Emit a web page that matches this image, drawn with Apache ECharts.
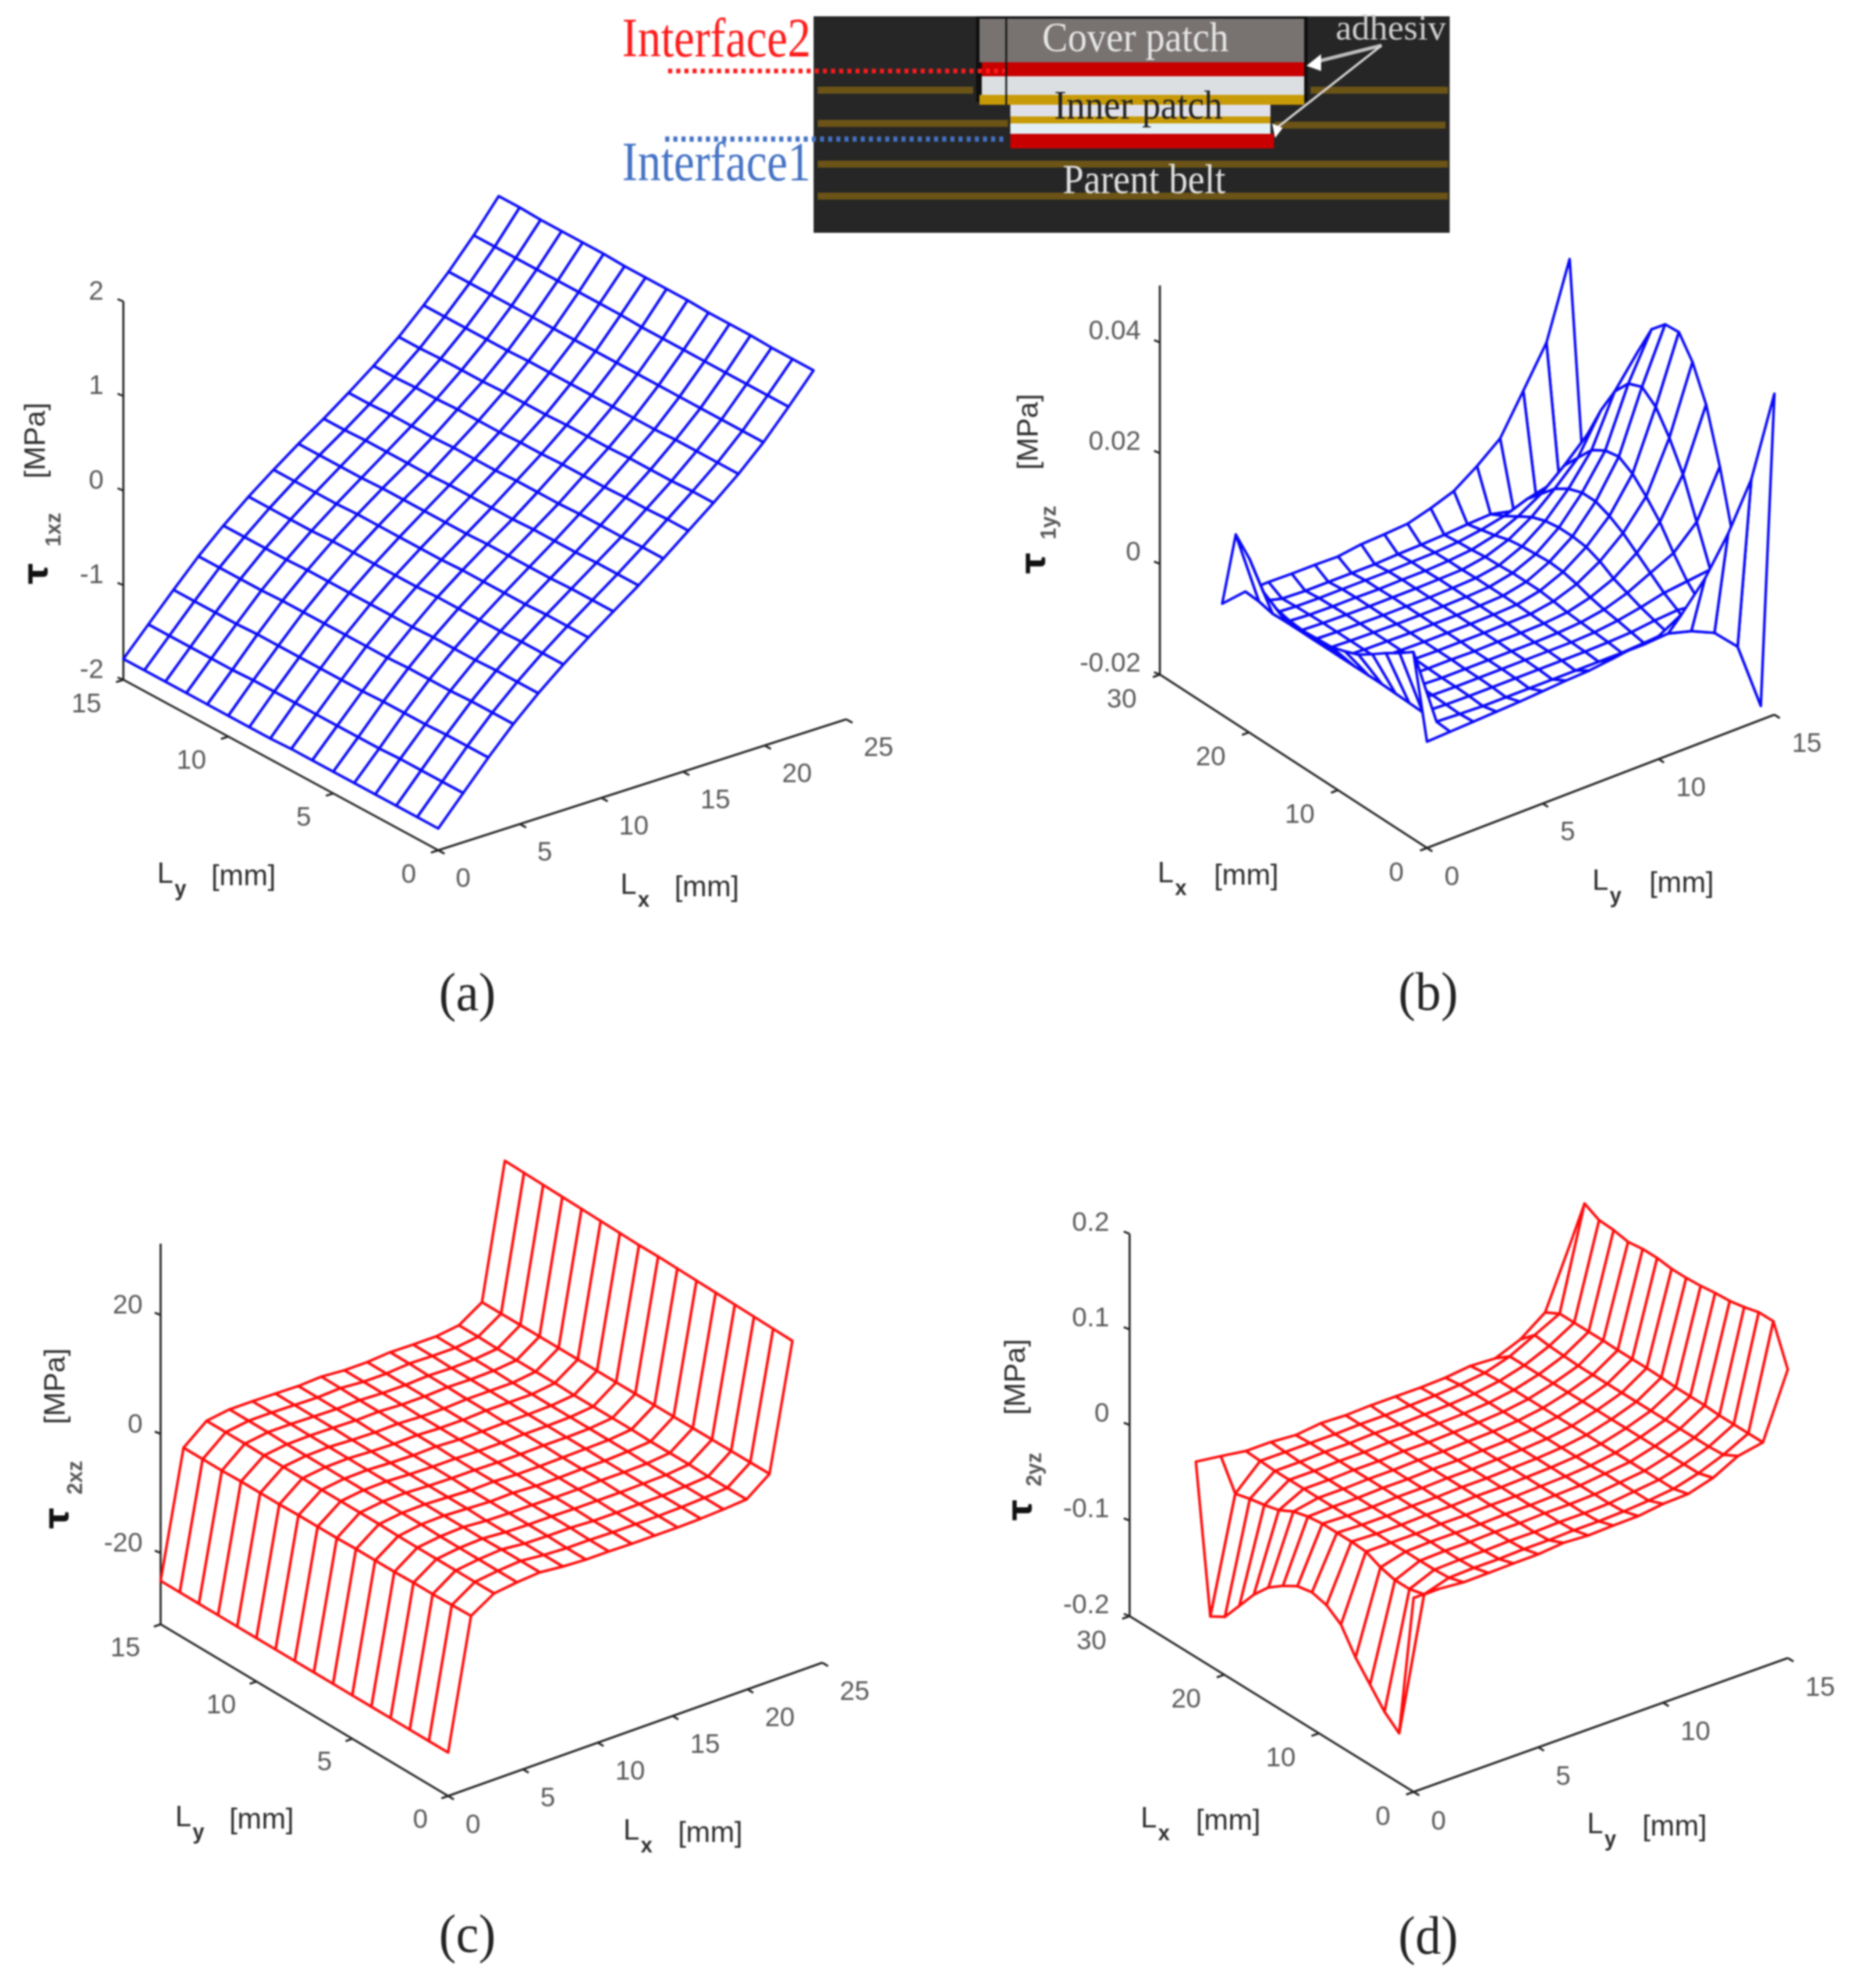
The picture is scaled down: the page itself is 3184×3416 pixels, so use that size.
<!DOCTYPE html>
<html><head><meta charset="utf-8">
<style>html,body{margin:0;padding:0;background:#fff}#main{width:3184px;height:3416px;filter:blur(1.5px)}</style>
<script src="https://cdn.jsdelivr.net/npm/echarts@6/dist/echarts.min.js"></script>
</head><body><div id="main"></div>
<script>
// ---------- data ----------
const lxGrid = [0,1.53,3.07,4.6,6.13,7.67,9.2,10.73,12.27,13.8,15.33,16.87,18.4,19.93,21.47,23];
const lyGrid = [0,1,2,3,4,5,6,7,8,9,10,11,12,13,14,15];

const tau1xz = [
[-1.77,-1.77,-1.77,-1.77,-1.77,-1.77,-1.77,-1.77,-1.78,-1.78,-1.78,-1.78,-1.78,-1.78,-1.78,-1.78],
[-1.48,-1.48,-1.48,-1.48,-1.49,-1.49,-1.49,-1.49,-1.49,-1.49,-1.49,-1.5,-1.5,-1.5,-1.5,-1.5],
[-1.19,-1.19,-1.19,-1.2,-1.2,-1.2,-1.21,-1.21,-1.21,-1.21,-1.21,-1.21,-1.22,-1.22,-1.22,-1.22],
[-.92,-.92,-.92,-.93,-.93,-.93,-.94,-.94,-.94,-.94,-.94,-.94,-.95,-.95,-.95,-.95],
[-.68,-.68,-.68,-.69,-.69,-.69,-.7,-.7,-.7,-.7,-.7,-.7,-.71,-.71,-.71,-.71],
[-.46,-.46,-.46,-.47,-.47,-.47,-.47,-.48,-.48,-.48,-.48,-.48,-.49,-.49,-.49,-.49],
[-.26,-.26,-.26,-.27,-.27,-.27,-.27,-.28,-.28,-.28,-.28,-.28,-.29,-.29,-.29,-.29],
[-.07,-.07,-.07,-.08,-.08,-.08,-.08,-.09,-.09,-.09,-.09,-.09,-.1,-.1,-.1,-.1],
[.12,.12,.12,.11,.11,.11,.1,.1,.1,.1,.09,.09,.09,.09,.08,.08],
[.32,.32,.31,.31,.31,.3,.3,.3,.29,.29,.29,.28,.28,.28,.27,.27],
[.53,.53,.52,.52,.51,.51,.51,.5,.5,.49,.49,.49,.48,.48,.47,.47],
[.74,.74,.73,.73,.73,.72,.72,.72,.71,.71,.71,.7,.7,.7,.69,.69],
[.96,.96,.96,.96,.95,.95,.95,.95,.95,.95,.95,.94,.94,.94,.94,.94],
[1.21,1.21,1.21,1.21,1.21,1.21,1.21,1.21,1.21,1.21,1.21,1.21,1.21,1.21,1.21,1.21],
[1.50,1.50,1.50,1.50,1.50,1.50,1.50,1.50,1.51,1.51,1.51,1.51,1.51,1.51,1.51,1.51],
[1.80,1.80,1.80,1.81,1.81,1.81,1.82,1.82,1.82,1.82,1.83,1.83,1.83,1.83,1.84,1.84]];

const tau1yz = [
[-.0008,-.0006,-.0004,-.0002,0,.0003,.0006,.0008,.0013,.0019,.0022,.0046,.0094,.0159,.0241,.038],
[.0138,-.0004,-.0006,-.0008,-.0008,-.0008,-.0008,-.0008,-.0008,-.0008,-.0008,-.0005,-.0017,-.0036,-.0077,-.02],
[.012,-.0003,-.0005,-.0006,-.0006,-.0006,-.0006,-.0006,-.0006,-.0005,-.0003,.0002,.0005,0,-.002,-.0086],
[.0104,-.0002,-.0004,-.0005,-.0005,-.0005,-.0005,-.0005,-.0005,-.0003,.0002,.001,.002,.0025,.003,.0069],
[.0086,-.0001,-.0003,-.0005,-.0005,-.0005,-.0005,-.0005,-.0004,-.0001,.0006,.002,.004,.006,.01,.0184],
[.0069,0,-.0003,-.0004,-.0004,-.0005,-.0004,-.0004,-.0003,.0001,.0012,.003,.006,.01,.017,.028],
[.0059,0,-.0002,-.0003,-.0004,-.0004,-.0004,-.0003,-.0002,.0005,.002,.0045,.008,.013,.022,.0341],
[.0051,0,-.0002,-.0003,-.0004,-.0004,-.0004,-.0003,-.0001,.0008,.0026,.0055,.0095,.0155,.026,.0379],
[.0049,0,-.0002,-.0003,-.0004,-.0004,-.0004,-.0003,-.0001,.0008,.0028,.0058,.0105,.017,.028,.0377],
[.0047,0,-.0002,-.0003,-.0004,-.0004,-.0004,-.0003,-.0001,.0008,.0026,.0058,.0105,.0165,.027,.0352],
[.0049,0,-.0002,-.0003,-.0004,-.0004,-.0004,-.0003,-.0001,.0006,.0024,.0054,.0096,.015,.024,.0296],
[.0055,0,-.0002,-.0003,-.0004,-.0004,-.0004,-.0003,-.0002,.0005,.002,.0045,.008,.012,.019,.023],
[.0071,0,-.0003,-.0004,-.0004,-.0005,-.0004,-.0004,-.0002,.0002,.0012,.003,.0055,.009,.013,.0151],
[.0114,-.0001,-.0004,-.0005,-.0005,-.0005,-.0005,-.0004,-.0003,0,.0006,.0015,.003,.004,.006,.0072],
[.0142,.0005,-.0006,-.0008,-.0008,-.0008,-.0008,-.0006,-.0005,-.0003,0,.0002,-.0008,-.001,0,.002],
[.0001,.0007,.0008,.0007,.0007,.0006,.0012,.0014,.0017,.0029,.0044,.0073,.0107,.0177,.0248,.0383]];

const tau2xz = [
[-24.7,-24.7,-24.7,-24.7,-24.7,-24.7,-24.7,-24.7,-24.7,-24.7,-24.7,-24.7,-24.7,-24.7,-24.7,-24.7],
[-3.1,-3.2,-3.3,-3.3,-3.4,-3.4,-3.4,-3.5,-3.5,-3.5,-3.6,-3.6,-3.6,-3.7,-3.7,-3.7],
[-.7,-.7,-.7,-.7,-.7,-.7,-.6,-.6,-.6,-.6,-.6,-.6,-.6,-.55,-.55,-.55],
[-.2,-.2,-.2,-.2,-.2,-.1,-.1,-.1,-.1,-.1,-.1,-.1,-.1,0,0,0],
[.1,.1,.1,0,0,0,0,0,0,0,0,0,0,0,0,0],
[-.3,-.3,-.3,-.3,-.3,-.2,-.2,-.2,-.2,-.2,-.2,-.2,-.1,-.1,-.1,-.1],
[-.5,-.5,-.4,-.4,-.4,-.4,-.4,-.3,-.3,-.3,-.3,-.3,-.2,-.2,-.2,-.2],
[-.5,-.5,-.4,-.4,-.4,-.3,-.3,-.3,-.3,-.2,-.2,-.2,-.1,-.1,0,0],
[-.6,-.6,-.6,-.5,-.5,-.5,-.5,-.4,-.4,-.4,-.4,-.4,-.3,-.3,-.3,-.3],
[-.6,-.6,-.6,-.5,-.5,-.5,-.5,-.4,-.4,-.4,-.4,-.4,-.3,-.3,-.3,-.3],
[-.6,-.6,-.5,-.5,-.4,-.4,-.4,-.3,-.3,-.3,-.2,-.2,-.1,-.1,0,0],
[-.5,-.5,-.5,-.4,-.4,-.4,-.3,-.3,-.3,-.3,-.2,-.2,-.2,-.2,-.1,-.1],
[-.3,-.3,-.3,-.3,-.3,-.2,-.2,-.2,-.2,-.2,-.2,-.2,-.1,-.1,-.1,-.1],
[0,0,0,.1,.1,.1,.2,.2,.2,.2,.3,.3,.3,.3,.4,.4],
[2.9,2.9,2.9,2.9,2.9,2.9,2.9,2.9,2.9,2.9,2.9,2.9,2.9,2.9,2.9,2.9],
[23.9,24,24.1,24.2,24.3,24.4,24.5,24.6,24.6,24.7,24.8,24.9,25,25.1,25.2,25.3]];

const tau2yz = [
[.003,.003,.0006,.001,.0017,.002,.0045,.003,.004,.0045,.008,.009,.0165,.03,.035,.102],
[-.148,-.012,-.004,-.003,-.003,-.002,-.002,-.001,-.001,0,.002,.005,.012,.022,.035,.143],
[-.135,-.016,-.005,-.004,-.004,-.003,-.003,-.002,-.002,-.001,.002,.005,.012,.021,.035,.143],
[-.116,-.016,-.005,-.004,-.004,-.003,-.003,-.002,-.002,-.001,.002,.005,.012,.021,.035,.139],
[-.097,-.012,-.005,-.004,-.004,-.004,-.003,-.003,-.002,-.001,.002,.005,.012,.021,.036,.136],
[-.072,-.005,-.005,-.005,-.004,-.004,-.003,-.003,-.002,-.001,.001,.005,.012,.021,.036,.135],
[-.061,-.004,-.005,-.005,-.004,-.004,-.003,-.003,-.002,-.001,.001,.005,.012,.021,.036,.133],
[-.057,-.004,-.005,-.005,-.004,-.004,-.003,-.003,-.002,-.001,.001,.005,.012,.021,.037,.132],
[-.06,-.004,-.005,-.005,-.004,-.004,-.003,-.003,-.002,-.001,.001,.005,.012,.021,.0375,.132],
[-.069,-.006,-.005,-.005,-.004,-.004,-.003,-.003,-.002,-.001,.001,.005,.012,.021,.0375,.134],
[-.08,-.01,-.005,-.005,-.004,-.004,-.003,-.003,-.002,-.001,.001,.005,.012,.021,.0375,.134],
[-.097,-.018,-.005,-.005,-.004,-.004,-.003,-.003,-.002,-.001,.001,.005,.012,.021,.038,.132],
[-.118,-.022,-.005,-.005,-.004,-.004,-.003,-.003,-.002,-.001,.001,.005,.012,.022,.038,.135],
[-.139,-.025,-.005,-.005,-.004,-.004,-.003,-.003,-.002,-.001,.001,.005,.012,.023,.038,.136],
[-.148,-.029,-.004,-.004,-.004,-.004,-.003,-.003,-.002,-.001,.001,.004,.012,.025,.038,.144],
[.0045,.001,-.003,-.003,-.005,-.002,-.003,-.002,-.002,-.002,-.001,.002,.0006,.011,.03,.092]];

const ticksLx25 = [0,5,10,15,20,25];
const ticksLx30 = [0,10,20,30];
const ticksLy15 = [0,5,10,15];
const ticksZa = [-2,-1,0,1,2];
const ticksZb = [-0.02,0,0.02,0.04];
const ticksZc = [-20,0,20];
const ticksZd = [-0.2,-0.1,0,0.1,0.2];

const BLUE = '#0808f8', RED = '#ff0a0a', INK = '#2e2e2e', AXIS = '#222';
const SANS = '"Liberation Sans",Arial,sans-serif', SERIF = '"Liberation Serif","Times New Roman",serif';

// ---------- panels: projection frames of the four 3-D boxes ----------
const panels = [
 {key:'a',z:tau1xz,color:BLUE,O:[753,1461],lxEnd:[1454,1236],lyEnd:[212,1168],lxMax:25,lyMax:15,lxTicks:ticksLx25,lyTicks:ticksLy15,
  zTicks:ticksZa,zMin:-2,zK:162.5,zTop:2,anchor:'ly',zLab:[-34,-16],lxLab:[30,50],lyLab:[-38,43],lxAlign:'left',lyAlign:'right',
  tFirst:['y',270,474,1507],tSecond:['x',1066,1270,1526],rot:{mpa:[63,757],sub:['1xz',94,910],tau:[66,986]},cap:['(a)',803,1708]},
 {key:'b',z:tau1yz,color:BLUE,O:[2452,1457],lxEnd:[1993,1159],lyEnd:[3049,1228],lxMax:30,lyMax:15,lxTicks:ticksLx30,lyTicks:ticksLy15,
  zTicks:ticksZb,zMin:-0.02,zK:9510,zTop:0.0503,anchor:'lx',zLab:[-33,-18],lxLab:[-40,44],lyLab:[30,51],lxAlign:'right',lyAlign:'left',
  tFirst:['x',1989,2197,1506],tSecond:['y',2736,2945,1519],rot:{mpa:[1769,742],sub:['1yz',1804,898],tau:[1780,968]},cap:['(b)',2454,1707]},
 {key:'c',z:tau2xz,color:RED,O:[770,3086],lxEnd:[1413,2857],lyEnd:[276,2791],lxMax:25,lyMax:15,lxTicks:ticksLx25,lyTicks:ticksLy15,
  zTicks:ticksZc,zMin:-32,zK:10.22,zTop:32,anchor:'ly',zLab:[-31,-15],lxLab:[30,51],lyLab:[-35,42],lxAlign:'left',lyAlign:'right',
  tFirst:['y',301,505,3128],tSecond:['x',1071,1276,3151],rot:{mpa:[97,2382],sub:['2xz',131,2539],tau:[102,2609]},cap:['(c)',803,3326]},
 {key:'d',z:tau2yz,color:RED,O:[2429,3079],lxEnd:[1941,2777],lyEnd:[3072,2849],lxMax:30,lyMax:15,lxTicks:ticksLx30,lyTicks:ticksLy15,
  zTicks:ticksZd,zMin:-0.2,zK:1642,zTop:0.2,anchor:'lx',zLab:[-35,-18],lxLab:[-40,44],lyLab:[30,52],lxAlign:'right',lyAlign:'left',
  tFirst:['x',1960,2166,3130],tSecond:['y',2727,2933,3140],rot:{mpa:[1747,2366],sub:['2yz',1779,2525],tau:[1757,2595]},cap:['(d)',2454,3329]}
];

function projector(p){
  const ux=(p.lxEnd[0]-p.O[0])/p.lxMax, uy=(p.lxEnd[1]-p.O[1])/p.lxMax;
  const vx=(p.lyEnd[0]-p.O[0])/p.lyMax, vy=(p.lyEnd[1]-p.O[1])/p.lyMax;
  return (lx,ly,z)=>[p.O[0]+lx*ux+ly*vx, p.O[1]+lx*uy+ly*vy-(z-p.zMin)*p.zK];
}
const GAP=[NaN,NaN];
const series=[], graphics=[];

function textEl(text,x,y,size,extra){
  return {type:'text',x,y,rotation:extra&&extra.rotation||0,silent:true,z:20,
    scaleY:extra&&extra.scaleY||1,
    style:{text,fontSize:size,fontFamily:extra&&extra.family||SANS,fontWeight:extra&&extra.weight||'normal',
      fill:extra&&extra.fill||INK,align:extra&&extra.align||'center',verticalAlign:'middle'}};
}
function axisTitle(t){
  const [sub,l,r,cy]=t;
  graphics.push(textEl('L',l,cy-4,50,{align:'left'}));
  graphics.push(textEl(sub,l+30,cy+22,36,{align:'left',weight:'bold'}));
  graphics.push(textEl('[mm]',r,cy,50,{align:'right'}));
}

panels.forEach(p=>{
  const P=projector(p);
  // axes and ticks
  const axis=[];
  const corner=p.anchor==='ly'?[0,p.lyMax]:[p.lxMax,0];
  axis.push(P(0,0,p.zMin),P(p.lxMax,0,p.zMin),GAP);
  axis.push(P(0,0,p.zMin),P(0,p.lyMax,p.zMin),GAP);
  axis.push(P(corner[0],corner[1],p.zMin),P(corner[0],corner[1],p.zTop),GAP);
  p.lxTicks.forEach(t=>{axis.push(P(t,0,p.zMin),P(t,-0.3,p.zMin),GAP);});
  p.lyTicks.forEach(t=>{axis.push(P(0,t,p.zMin),P(p.lxMax===25?-0.45:-0.6,t,p.zMin),GAP);});
  p.zTicks.forEach(t=>{const q=P(corner[0],corner[1],t);axis.push(q,[q[0]-10,q[1]-4],GAP);});
  series.push({type:'line',data:axis,showSymbol:false,symbol:'none',silent:true,animation:false,z:2,
    lineStyle:{color:AXIS,width:3.5},connectNulls:false});

  // tick labels
  const labels=[];
  const push=(pt,off,text,align)=>labels.push({value:[pt[0]+off[0],pt[1]+off[1]],
     label:{formatter:text,align}});
  p.lxTicks.forEach(t=>push(P(t,0,p.zMin),p.lxLab,String(t),p.lxAlign));
  p.lyTicks.forEach(t=>push(P(0,t,p.zMin),p.lyLab,String(t),p.lyAlign));
  p.zTicks.forEach(t=>push(P(corner[0],corner[1],t),p.zLab,String(t),'right'));
  series.push({type:'scatter',data:labels,symbolSize:0,silent:true,animation:false,z:3,
    label:{show:true,position:'inside',fontSize:46,fontFamily:SANS,color:INK,verticalAlign:'middle'}});

  // wire surface: quads painted back to front so nearer faces hide farther lines
  const quads=[];
  for(let i=0;i<lxGrid.length-1;i++)for(let j=0;j<lyGrid.length-1;j++){
    const a=P(lxGrid[i],lyGrid[j],p.z[i][j]),b=P(lxGrid[i+1],lyGrid[j],p.z[i+1][j]),
          c=P(lxGrid[i+1],lyGrid[j+1],p.z[i+1][j+1]),d=P(lxGrid[i],lyGrid[j+1],p.z[i][j+1]);
    quads.push({o:i+j,v:[a[0],a[1],b[0],b[1],c[0],c[1],d[0],d[1]]});
  }
  quads.sort((m,n)=>n.o-m.o);
  series.push({type:'custom',data:quads.map(q=>q.v),silent:true,animation:false,clip:false,z:5,progressive:0,
    encode:{x:[0,2,4,6],y:[1,3,5,7]},
    renderItem:(params,api)=>({type:'polygon',
      shape:{points:[0,2,4,6].map(k=>api.coord([api.value(k),api.value(k+1)]))},
      style:{fill:'#fff',stroke:p.color,lineWidth:4.5,lineJoin:'round'}})});

  // titles
  axisTitle(p.tFirst); axisTitle(p.tSecond);
  const R=Math.PI/2;
  graphics.push(textEl('[MPa]',p.rot.mpa[0],p.rot.mpa[1],50,{rotation:R}));
  graphics.push(textEl(p.rot.sub[0],p.rot.sub[1],p.rot.sub[2],36,{rotation:R,weight:'bold',fill:'#555'}));
  graphics.push(textEl('τ',p.rot.tau[0],p.rot.tau[1],58,{rotation:R,weight:'bold',family:'"DejaVu Sans"',fill:'#111'}));
  graphics.push(textEl(p.cap[0],p.cap[1],p.cap[2]+4,88,{family:SERIF,fill:'#222',scaleY:1.05}));
});

// ---------- inset schematic ----------
const rect=(x0,y0,x1,y1,fill)=>({type:'rect',shape:{x:x0,y:y0,width:x1-x0,height:y1-y0},style:{fill},silent:true,z:10});
const seg=(x0,y0,x1,y1,stroke,w,dash)=>({type:'line',shape:{x1:x0,y1:y0,x2:x1,y2:y1},style:{stroke,lineWidth:w,lineDash:dash||null},silent:true,z:11});
const BELT='#6b5416';
graphics.push(
  rect(1398,28,2491,400,'#262626'),
  rect(1405,149,1672,161,BELT),rect(2252,149,2488,161,BELT),
  rect(1405,206,1732,218,BELT),rect(2190,209,2484,221,BELT),
  rect(1405,276,2488,288,BELT),rect(1405,331,2488,343,BELT),
  rect(1677,28,2247,175,'#0f0f0f'),
  rect(1683,32,2241,107,'#787271'),
  rect(1687,107,2241,131,'#c80000'),
  rect(1687,131,2241,163,'#dcdfe2'),
  rect(1683,163,2241,180,'#c89a08'),
  seg(1729,32,1729,180,'#111',3),
  rect(1736,180,2183,200,'#dfe0ea'),
  rect(1736,200,2183,212,'#c89a08'),
  rect(1736,212,2183,230,'#e2eff5'),
  rect(1736,230,2189,255,'#c80000'),
  seg(1148,122,1727,122,'#ff1a1a',8,[7,7]),
  seg(1143,239,1731,239,'#4472c4',9,[7,7]),
  seg(2374,78,2262,106,'#bdbdbd',6),
  {type:'polygon',shape:{points:[[2245,113],[2270,93],[2270,122]]},style:{fill:'#fff'},silent:true,z:12},
  seg(2374,78,2196,218,'#d8d8d8',4),
  {type:'polygon',shape:{points:[[2191,237],[2186,212],[2204,220]]},style:{fill:'#fff'},silent:true,z:12},
  textEl('Interface2',1069,72,80,{family:SERIF,fill:'#ff1a1a',align:'left',scaleY:1.2}),
  textEl('Interface1',1069,285,80,{family:SERIF,fill:'#4472c4',align:'left',scaleY:1.2}),
  textEl('Cover patch',1951,69,66,{family:SERIF,fill:'#e6e6e6',scaleY:1.1}),
  textEl('Inner patch',1956,186,64,{family:SERIF,fill:'#222',scaleY:1.1}),
  textEl('Parent belt',1966,313,65,{family:SERIF,fill:'#e0e0e0',scaleY:1.1}),
  textEl('adhesiv',2295,52,62,{family:SERIF,fill:'#cfcfcf',align:'left'})
);

const chart=echarts.init(document.getElementById('main'),null,{renderer:'canvas',width:3184,height:3416});
chart.setOption({
  animation:false,
  backgroundColor:'#fff',
  grid:{left:0,right:0,top:0,bottom:0},
  xAxis:{type:'value',min:0,max:3184,show:false},
  yAxis:{type:'value',min:0,max:3416,inverse:true,show:false},
  series,
  graphic:{elements:graphics}
});
</script></body></html>
